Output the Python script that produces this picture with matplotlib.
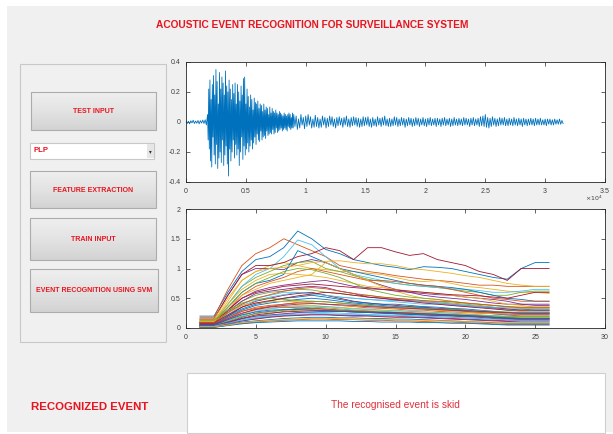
import numpy as np
import matplotlib
matplotlib.use("Agg")
import matplotlib.pyplot as plt
from matplotlib.patches import Rectangle
from matplotlib.colors import LinearSegmentedColormap

# ---------------- data ----------------
title_text = "ACOUSTIC EVENT RECOGNITION FOR SURVEILLANCE SYSTEM"
button_labels = ["TEST INPUT", "FEATURE EXTRACTION", "TRAIN INPUT", "EVENT RECOGNITION USING SVM"]
dropdown_label = "PLP"
result_label = "RECOGNIZED EVENT"
result_text = "The recognised event is skid"

wave_quiet_start, wave_quiet_step = 0, 100
wave_quiet = [0.01, -0.01, 0.005, -0.012, 0.008, -0.006, 0.012, -0.01, 0.006, -0.008,
              0.01, -0.012, 0.009, -0.007, 0.013, -0.01, 0.015, -0.02]

wave_burst_start, wave_burst_step = 1800, 50
wave_burst = [
    0.05, -0.12, 0.22, -0.18, 0.28, -0.26, 0.15, -0.30, 0.25, -0.10, 0.31, -0.22,
    0.18, -0.28, 0.35, -0.15, 0.27, -0.31, 0.12, -0.24, 0.33, -0.20, 0.22, -0.27,
    0.30, -0.12, 0.26, -0.29, 0.18, -0.22, 0.34, -0.16, 0.24, -0.28, 0.20, -0.36,
    0.28, -0.18, 0.22, -0.26, 0.15, -0.20, 0.25, -0.12, 0.19, -0.24, 0.26, -0.15,
    0.12, -0.22, 0.25, -0.18, 0.20, -0.29, 0.14, -0.20, 0.24, -0.10, 0.18, -0.25,
    0.29, -0.16, 0.30, -0.22, 0.12, -0.18, 0.22, -0.14, 0.17, -0.20, 0.10, -0.16,
    0.18, -0.12, 0.15, -0.18, 0.08, -0.14, 0.16, -0.10, 0.13, -0.15, 0.12, -0.08,
    0.14, -0.12, 0.09, -0.13, 0.12, -0.06, 0.11, -0.12, 0.07, -0.10, 0.12, -0.09,
    0.08, -0.11, 0.10, -0.06, 0.09, -0.09, 0.05, -0.08, 0.10, -0.07, 0.06, -0.08,
    0.09, -0.05, 0.07, -0.08, 0.06, -0.07, 0.08, -0.04, 0.06, -0.07, 0.05, -0.06,
    0.07, -0.05, 0.06, -0.04, 0.05, -0.06, 0.04, -0.05, 0.06, -0.04, 0.05, -0.05,
    0.04, -0.06, 0.05, -0.03, 0.06, -0.04, 0.05, -0.05, 0.03, -0.04, 0.06, -0.04,
]

wave_tail_start, wave_tail_step = 9000, 100
wave_tail = [
    0.05, -0.03, 0.04, -0.05, 0.02, -0.04, 0.05, -0.02, 0.03, -0.045, 0.04, -0.03, 0.05, -0.02, 0.035, -0.04, 0.02, -0.035, 0.045, -0.03,
    0.03, -0.04, 0.02, -0.035, 0.04, -0.02, 0.03, -0.04, 0.025, -0.03, 0.04, -0.02, 0.035, -0.03, 0.02, -0.04, 0.03, -0.025, 0.035, -0.02,
    0.025, -0.035, 0.03, -0.02, 0.04, -0.03, 0.02, -0.035, 0.03, -0.025, 0.035, -0.02, 0.03, -0.03, 0.025, -0.035, 0.02, -0.03, 0.035, -0.025,
    0.03, -0.02, 0.035, -0.03, 0.02, -0.035, 0.03, -0.025, 0.02, -0.03, 0.035, -0.02, 0.025, -0.03, 0.03, -0.02, 0.04, -0.025, 0.02, -0.03,
    0.025, -0.03, 0.02, -0.025, 0.035, -0.02, 0.03, -0.03, 0.02, -0.025, 0.03, -0.02, 0.025, -0.035, 0.02, -0.025, 0.03, -0.02, 0.025, -0.03,
    0.02, -0.025, 0.03, -0.02, 0.025, -0.03, 0.02, -0.02, 0.03, -0.025, 0.02, -0.03, 0.025, -0.02, 0.03, -0.025, 0.02, -0.02, 0.025, -0.03,
    0.025, -0.02, 0.02, -0.03, 0.025, -0.02, 0.03, -0.025, 0.02, -0.02, 0.025, -0.03, 0.02, -0.025, 0.03, -0.02, 0.02, -0.025, 0.025, -0.02,
    0.02, -0.025, 0.03, -0.02, 0.025, -0.02, 0.02, -0.03, 0.025, -0.02, 0.03, -0.025, 0.02, -0.02, 0.025, -0.03, 0.035, -0.025, 0.04, -0.03,
    0.05, -0.035, 0.03, -0.04, 0.025, -0.03, 0.035, -0.02, 0.025, -0.03, 0.02, -0.025, 0.03, -0.02, 0.025, -0.02, 0.03, -0.025, 0.02, -0.025,
    0.025, -0.02, 0.02, -0.025, 0.03, -0.02, 0.02, -0.025, 0.025, -0.02, 0.02, -0.03, 0.025, -0.02, 0.02, -0.025, 0.02, -0.02, 0.025, -0.02,
    0.02, -0.025, 0.025, -0.02, 0.02, -0.02, 0.025, -0.02, 0.015, -0.02, 0.02, -0.025, 0.02, -0.015, 0.02, -0.02, 0.015, -0.02, 0.02, -0.015,
    0.015, -0.015, 0.02, -0.015, 0.01, -0.01,
]

feature_frames = list(range(1, 27))
feature_curves = [
    [0.20,0.20,0.60,0.95,1.15,1.20,1.35,1.63,1.50,1.32,1.25,1.15,1.10,1.05,1.02,0.98,1.03,1.02,1.00,0.95,0.90,0.85,0.82,1.00,1.10,1.10],
    [0.18,0.18,0.65,1.05,1.25,1.35,1.50,1.40,1.30,1.20,1.05,1.00,0.95,0.92,0.88,0.85,0.82,0.80,0.78,0.75,0.72,0.72,0.70,0.70,0.70,0.70],
    [0.12,0.12,0.45,0.80,0.95,1.05,1.10,1.05,1.00,0.98,0.95,0.95,0.92,0.90,0.85,0.80,0.78,0.80,0.75,0.70,0.68,0.65,0.62,0.60,0.60,0.58],
    [0.15,0.15,0.55,0.90,1.00,1.00,0.98,1.10,1.15,1.10,1.00,0.90,0.80,0.72,0.65,0.60,0.55,0.52,0.50,0.48,0.45,0.42,0.40,0.40,0.40,0.40],
    [0.10,0.10,0.40,0.70,0.85,0.95,1.05,1.10,1.12,1.00,0.95,0.88,0.82,0.78,0.75,0.72,0.70,0.68,0.65,0.62,0.60,0.55,0.55,0.60,0.62,0.62],
    [0.12,0.12,0.40,0.70,0.90,1.00,1.20,1.48,1.40,1.20,1.00,0.90,0.85,0.80,0.75,0.72,0.70,0.68,0.66,0.65,0.63,0.60,0.60,0.62,0.65,0.65],
    [0.15,0.15,0.55,0.90,1.05,1.05,1.10,1.20,1.25,1.35,1.30,1.15,1.35,1.35,1.28,1.22,1.25,1.15,1.10,1.05,0.95,0.90,0.80,1.00,1.00,1.00],
    [0.10,0.10,0.35,0.60,0.75,0.80,0.90,1.30,1.20,1.10,1.00,0.95,0.90,0.85,0.80,0.75,0.72,0.70,0.68,0.65,0.60,0.55,0.50,0.48,0.45,0.45],
    [0.08,0.08,0.30,0.55,0.70,0.78,0.85,0.95,1.00,0.95,0.90,0.85,0.80,0.80,0.78,0.75,0.72,0.70,0.65,0.60,0.55,0.50,0.48,0.45,0.45,0.45],
    [0.10,0.10,0.35,0.55,0.65,0.75,0.80,0.85,0.90,1.10,1.00,0.90,0.80,0.70,0.62,0.55,0.50,0.48,0.45,0.42,0.40,0.38,0.35,0.35,0.35,0.35],
    [0.10,0.10,0.30,0.50,0.62,0.68,0.72,0.75,0.78,0.80,0.75,0.70,0.68,0.65,0.62,0.60,0.58,0.56,0.55,0.52,0.50,0.48,0.45,0.40,0.38,0.38],
    [0.06,0.06,0.25,0.45,0.55,0.60,0.62,0.65,0.64,0.60,0.58,0.55,0.55,0.52,0.50,0.48,0.46,0.44,0.42,0.40,0.38,0.35,0.32,0.32,0.30,0.30],
    [0.08,0.08,0.25,0.40,0.50,0.55,0.60,0.60,0.58,0.55,0.52,0.50,0.48,0.46,0.44,0.42,0.40,0.40,0.38,0.36,0.35,0.33,0.30,0.28,0.28,0.28],
    [0.05,0.05,0.20,0.35,0.45,0.50,0.55,0.58,0.60,0.55,0.50,0.45,0.42,0.40,0.38,0.36,0.35,0.33,0.32,0.30,0.28,0.26,0.25,0.25,0.25,0.25],
    [0.06,0.06,0.18,0.30,0.38,0.42,0.45,0.48,0.50,0.48,0.45,0.42,0.40,0.38,0.36,0.35,0.34,0.32,0.30,0.28,0.26,0.24,0.22,0.22,0.22,0.22],
    [0.05,0.05,0.15,0.28,0.35,0.38,0.40,0.42,0.42,0.40,0.38,0.36,0.34,0.33,0.32,0.30,0.30,0.28,0.27,0.26,0.25,0.24,0.22,0.20,0.20,0.20],
    [0.04,0.04,0.12,0.22,0.30,0.33,0.36,0.38,0.38,0.36,0.35,0.33,0.32,0.30,0.30,0.28,0.27,0.26,0.25,0.24,0.22,0.20,0.18,0.18,0.18,0.18],
    [0.03,0.03,0.10,0.18,0.25,0.28,0.30,0.32,0.33,0.32,0.30,0.29,0.28,0.27,0.26,0.25,0.24,0.23,0.22,0.21,0.20,0.18,0.16,0.16,0.16,0.16],
    [0.05,0.05,0.10,0.15,0.20,0.24,0.28,0.30,0.31,0.30,0.29,0.28,0.27,0.26,0.25,0.25,0.24,0.23,0.22,0.21,0.20,0.19,0.18,0.17,0.17,0.17],
    [0.02,0.02,0.08,0.14,0.18,0.21,0.23,0.25,0.26,0.26,0.25,0.24,0.23,0.22,0.22,0.21,0.20,0.19,0.18,0.17,0.16,0.15,0.14,0.13,0.13,0.13],
    [0.04,0.04,0.08,0.12,0.15,0.18,0.20,0.21,0.22,0.22,0.21,0.20,0.20,0.19,0.18,0.18,0.17,0.16,0.15,0.14,0.13,0.12,0.11,0.10,0.10,0.10],
    [0.02,0.02,0.06,0.10,0.12,0.14,0.16,0.17,0.18,0.18,0.17,0.17,0.16,0.16,0.15,0.15,0.14,0.13,0.12,0.11,0.10,0.09,0.08,0.08,0.08,0.08],
    [0.01,0.01,0.05,0.08,0.10,0.12,0.13,0.14,0.15,0.15,0.14,0.14,0.13,0.13,0.12,0.12,0.11,0.10,0.10,0.09,0.08,0.07,0.06,0.06,0.06,0.06],
    [0.12,0.12,0.40,0.65,0.80,0.90,0.92,0.90,0.88,0.85,0.80,0.75,0.70,0.68,0.65,0.62,0.60,0.58,0.55,0.52,0.50,0.45,0.40,0.38,0.35,0.35],
    [0.08,0.08,0.28,0.45,0.58,0.62,0.65,0.68,0.70,0.68,0.62,0.58,0.52,0.50,0.48,0.46,0.44,0.42,0.40,0.38,0.36,0.34,0.32,0.30,0.30,0.30],
    [0.10,0.10,0.35,0.60,0.75,0.85,0.95,1.00,0.98,0.92,0.85,0.75,0.65,0.60,0.55,0.52,0.50,0.48,0.45,0.42,0.40,0.38,0.36,0.35,0.35,0.35],
    [0.03,0.03,0.12,0.20,0.28,0.32,0.35,0.36,0.37,0.36,0.34,0.32,0.31,0.30,0.29,0.28,0.27,0.26,0.25,0.23,0.22,0.21,0.20,0.19,0.19,0.19],
    [0.02,0.02,0.09,0.16,0.22,0.25,0.27,0.28,0.29,0.29,0.28,0.27,0.26,0.25,0.24,0.23,0.22,0.21,0.20,0.19,0.18,0.16,0.15,0.14,0.14,0.14],
    [0.06,0.06,0.20,0.32,0.40,0.45,0.50,0.52,0.55,0.52,0.48,0.44,0.42,0.40,0.40,0.38,0.36,0.35,0.33,0.32,0.30,0.28,0.26,0.25,0.25,0.25],
    [0.04,0.04,0.14,0.24,0.32,0.36,0.40,0.43,0.45,0.44,0.42,0.40,0.38,0.36,0.34,0.33,0.32,0.30,0.29,0.28,0.26,0.25,0.24,0.23,0.23,0.23],
    [0.15,0.15,0.50,0.80,0.95,1.00,1.02,1.05,1.10,1.12,1.13,1.10,1.08,1.08,1.05,1.00,0.98,0.95,0.92,0.88,0.85,0.80,0.75,0.72,0.70,0.70],
    [0.02,0.02,0.07,0.12,0.16,0.19,0.21,0.22,0.23,0.23,0.22,0.21,0.21,0.20,0.20,0.19,0.18,0.17,0.16,0.15,0.14,0.13,0.12,0.12,0.12,0.12],
    [0.03,0.03,0.11,0.19,0.24,0.27,0.30,0.33,0.35,0.34,0.32,0.30,0.29,0.28,0.27,0.26,0.25,0.24,0.23,0.22,0.21,0.20,0.19,0.19,0.19,0.19],
    [0.07,0.07,0.22,0.38,0.46,0.52,0.56,0.60,0.58,0.55,0.52,0.50,0.48,0.47,0.46,0.45,0.44,0.42,0.40,0.38,0.36,0.35,0.34,0.33,0.33,0.33],
    [0.09,0.09,0.30,0.50,0.60,0.65,0.70,0.72,0.74,0.72,0.70,0.68,0.66,0.65,0.64,0.62,0.60,0.58,0.56,0.55,0.54,0.52,0.50,0.55,0.60,0.60],
    [0.01,0.01,0.04,0.07,0.09,0.10,0.11,0.12,0.12,0.12,0.12,0.11,0.11,0.10,0.10,0.10,0.09,0.09,0.08,0.08,0.07,0.06,0.05,0.05,0.05,0.05],
    [0.07,0.07,0.18,0.28,0.33,0.36,0.35,0.34,0.33,0.31,0.30,0.28,0.27,0.26,0.25,0.24,0.23,0.22,0.21,0.20,0.19,0.18,0.17,0.16,0.16,0.16],
    [0.11,0.11,0.26,0.38,0.42,0.44,0.45,0.44,0.42,0.40,0.38,0.37,0.36,0.35,0.33,0.32,0.31,0.30,0.28,0.26,0.25,0.24,0.24,0.28,0.30,0.30],
    [0.04,0.04,0.10,0.16,0.20,0.22,0.24,0.26,0.27,0.28,0.28,0.27,0.27,0.26,0.26,0.25,0.24,0.23,0.22,0.21,0.20,0.18,0.16,0.15,0.15,0.15],
    [0.13,0.13,0.30,0.42,0.48,0.50,0.48,0.46,0.45,0.44,0.42,0.40,0.38,0.36,0.35,0.34,0.33,0.32,0.31,0.30,0.29,0.28,0.27,0.26,0.26,0.26],
    [0.03,0.03,0.08,0.13,0.17,0.20,0.22,0.23,0.24,0.24,0.23,0.23,0.22,0.21,0.21,0.20,0.20,0.19,0.18,0.17,0.16,0.15,0.14,0.13,0.13,0.13],
    [0.08,0.08,0.22,0.35,0.42,0.46,0.50,0.54,0.57,0.60,0.58,0.55,0.52,0.50,0.47,0.45,0.42,0.40,0.38,0.36,0.34,0.32,0.30,0.30,0.30,0.30],
    [0.05,0.05,0.14,0.22,0.27,0.30,0.31,0.31,0.30,0.29,0.28,0.27,0.26,0.25,0.24,0.23,0.22,0.21,0.21,0.20,0.19,0.18,0.17,0.16,0.16,0.16],
    [0.09,0.09,0.26,0.40,0.50,0.56,0.62,0.66,0.68,0.66,0.62,0.58,0.55,0.52,0.50,0.48,0.46,0.45,0.44,0.42,0.40,0.38,0.36,0.34,0.34,0.34],
    [0.02,0.02,0.05,0.09,0.11,0.13,0.14,0.15,0.16,0.16,0.16,0.15,0.15,0.14,0.14,0.13,0.13,0.12,0.12,0.11,0.10,0.10,0.09,0.09,0.09,0.09],
    [0.06,0.06,0.16,0.25,0.31,0.35,0.38,0.40,0.41,0.40,0.39,0.38,0.36,0.35,0.34,0.33,0.32,0.31,0.30,0.29,0.28,0.27,0.26,0.25,0.25,0.25],
]

wave_xticks = [0, 0.5, 1, 1.5, 2, 2.5, 3, 3.5]
wave_yticks = [-0.4, -0.2, 0, 0.2, 0.4]
feat_xticks = [0, 5, 10, 15, 20, 25, 30]
feat_yticks = [0, 0.5, 1, 1.5, 2]

matlab_colors = ["#0072BD", "#D95319", "#EDB120", "#7E2F8E", "#77AC30", "#4DBEEE", "#A2142F"]

# ---------------- figure ----------------
W, H = 613, 434
plt.rcParams["font.family"] = ["Liberation Sans", "DejaVu Sans"]
RED = "#e8141e"

fig = plt.figure(figsize=(W / 100, H / 100), dpi=100, facecolor="white")

def px_axes(x0, y0, x1, y1, **kw):
    return fig.add_axes([x0 / W, 1 - y1 / H, (x1 - x0) / W, (y1 - y0) / H], **kw)

bg = px_axes(0, 0, W, H)
bg.set_xlim(0, W)
bg.set_ylim(H, 0)
bg.axis("off")
bg.add_patch(Rectangle((7, 6), W - 7, 426, facecolor="#f0f0f0", edgecolor="none"))

bg.text(312, 25, title_text, color=RED, fontsize=7.3, fontweight="bold",
        ha="center", va="center")

# left panel
bg.add_patch(Rectangle((20, 64), 146, 278, facecolor="#f0f0f0", edgecolor="#c8c8c8", linewidth=0.8))

grad = np.linspace(0, 1, 50).reshape(-1, 1)
btn_cmap = LinearSegmentedColormap.from_list("btn", ["#efefef", "#e3e3e3", "#d3d3d3"])

def button(x0, y0, x1, y1, label):
    bg.imshow(grad, extent=(x0, x1, y1, y0), cmap=btn_cmap, aspect="auto", zorder=2)
    bg.add_patch(Rectangle((x0, y0), x1 - x0, y1 - y0, facecolor="none", edgecolor="#acacac",
                           linewidth=0.8, zorder=3))
    bg.text((x0 + x1) / 2, (y0 + y1) / 2 + 0.5, label, color=RED, fontsize=5.0,
            fontweight="bold", ha="center", va="center", zorder=4)

button_boxes = [(31, 92, 156, 130), (30, 171, 156, 208), (30, 218, 156, 260), (30, 269, 158, 312)]
for (x0, y0, x1, y1), lab in zip(button_boxes, button_labels):
    button(x0, y0, x1, y1, lab)

bg.set_xlim(0, W)
bg.set_ylim(H, 0)

# dropdown
bg.add_patch(Rectangle((30, 142.5), 124, 16.5, facecolor="white", edgecolor="#c8c8c8", linewidth=0.8, zorder=2))
bg.add_patch(Rectangle((147, 143.5), 6.5, 14.5, facecolor="#e6e6e6", edgecolor="none", zorder=3))
bg.text(152, 151.5, "\u25be", fontsize=4, color="#333333", ha="right", va="center", zorder=4,
        family=["DejaVu Sans"])
bg.text(33, 151, dropdown_label, color=RED, fontsize=5.6, fontweight="bold",
        ha="left", va="center", zorder=4)

# bottom
bg.add_patch(Rectangle((187, 373), 418, 60, facecolor="white", edgecolor="#cfcfcf", linewidth=0.8))
bg.text(90, 406.5, result_label, color=RED, fontsize=8.2, fontweight="bold",
        ha="center", va="center")
bg.text(395.5, 405, result_text, color="#e0303a", fontsize=7.3,
        ha="center", va="center")

def style_axes(ax):
    ax.set_facecolor("white")
    for s in ax.spines.values():
        s.set_color("#262626")
        s.set_linewidth(0.6)
    ax.tick_params(direction="in", length=3, width=0.5, colors="#262626",
                   labelsize=5, top=True, right=True, pad=4)
    for lab in ax.get_xticklabels() + ax.get_yticklabels():
        lab.set_color("#404040")

# waveform axes
ax1 = px_axes(186, 62, 605, 182)
ax1.set_zorder(5)
wave_x = np.concatenate([
    wave_quiet_start + np.arange(len(wave_quiet)) * wave_quiet_step,
    wave_burst_start + np.arange(len(wave_burst)) * wave_burst_step,
    wave_tail_start + np.arange(len(wave_tail)) * wave_tail_step,
]) / 1e4
wave_y = np.array(wave_quiet + wave_burst + wave_tail)
ax1.plot(wave_x, wave_y, color="#0072BD", linewidth=0.6)
ax1.set_xlim(0, 3.5)
ax1.set_ylim(-0.4, 0.4)
ax1.set_xticks(wave_xticks)
ax1.set_xticklabels([("%g" % v) for v in wave_xticks])
ax1.set_yticks(wave_yticks)
ax1.set_yticklabels([("%g" % v) for v in wave_yticks])
style_axes(ax1)
bg.text(603, 198, r"$\times10^{4}$", fontsize=4.5, color="#404040", ha="right", va="center")

# feature axes
ax2 = px_axes(186, 209, 605, 328)
ax2.set_zorder(5)
for i, curve in enumerate(feature_curves):
    ax2.plot(feature_frames, curve, color=matlab_colors[i % len(matlab_colors)], linewidth=0.6)
ax2.set_xlim(0, 30)
ax2.set_ylim(0, 2)
ax2.set_xticks(feat_xticks)
ax2.set_yticks(feat_yticks)
ax2.set_yticklabels([("%g" % v) for v in feat_yticks])
style_axes(ax2)

fig.savefig("out.png", dpi=100, facecolor=fig.get_facecolor())
